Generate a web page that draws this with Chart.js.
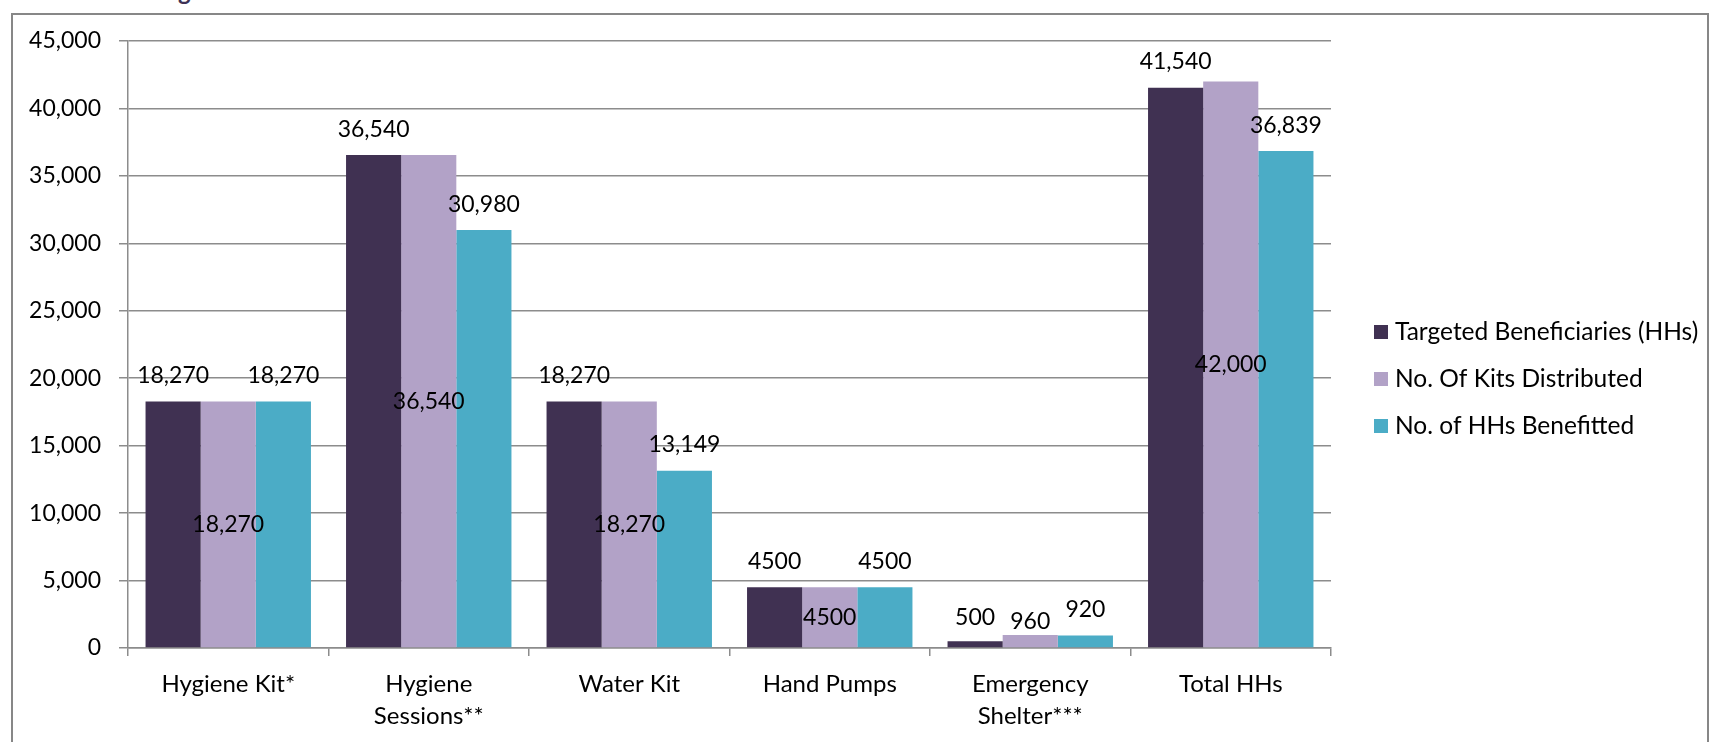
<!DOCTYPE html>
<html>
<head>
<meta charset="utf-8">
<script src="https://cdn.jsdelivr.net/npm/chart.js@4.4.1/dist/chart.umd.min.js"></script>
<style>
  html, body { margin: 0; padding: 0; background: #fff; overflow: hidden; }
  #wrap { position: relative; width: 1713px; height: 742px; }
  #frame {
    position: absolute; left: 11px; top: 13px; width: 1698px; height: 800px;
    border: 2px solid #878787; box-sizing: border-box;
  }
  #title {
    position: absolute; left: 26px; top: -21px; white-space: nowrap;
    font: bold 24px Lato, sans-serif; line-height: 24px; color: #3d3155;
  }
  canvas { position: absolute; left: 0; top: 0; }
</style>
</head>
<body>
<div id="wrap">
  <div id="frame"></div>
  <div id="title">3.1: Sector Targets and Achievements</div>
  <canvas id="chart" width="1713" height="742"></canvas>
</div>
<script>
const categories = [
  "Hygiene Kit*",
  ["Hygiene", "Sessions**"],
  "Water Kit",
  "Hand Pumps",
  ["Emergency", "Shelter***"],
  "Total HHs",
];
const seriesNames = [
  "Targeted Beneficiaries (HHs)",
  "No. Of Kits Distributed",
  "No. of HHs Benefitted",
];
const targeted = [18270, 36540, 18270, 4500, 500, 41540];
const distributed = [18270, 36540, 18270, 4500, 960, 42000];
const benefitted = [18270, 30980, 13149, 4500, 920, 36839];
const yTicks = [0, 5000, 10000, 15000, 20000, 25000, 30000, 35000, 40000, 45000];

const COLORS = ["#403152", "#b2a2c7", "#4bacc6"];
const FONT = "Lato, 'Open Sans', sans-serif";
const GRID = "#8c8c8c";

// where each value label sits: "end" above the bar, "mid" inside it
const LABEL_PLACE = [
  ["end", "end", "end", "end", "end", "end"],
  ["mid", "mid", "mid", "mid", "end", "mid"],
  ["end", "end", "end", "end", "end", "end"],
];
const LABEL_DY = [
  [0, 0, 0, 0, 2, 0],
  [0, 0, 0, 0, 13, 0],
  [0, 0, 0, 0, 0, 0],
];

const fmt = (v) => (v >= 10000 ? v.toLocaleString("en-US") : String(v));

const valueLabels = {
  id: "valueLabels",
  afterDatasetsDraw(chart) {
    const ctx = chart.ctx;
    ctx.save();
    ctx.font = `23px ${FONT}`;
    ctx.fillStyle = "#000";
    ctx.textAlign = "center";
    ctx.textBaseline = "middle";
    chart.data.datasets.forEach((ds, di) => {
      chart.getDatasetMeta(di).data.forEach((bar, i) => {
        const y = LABEL_PLACE[di][i] === "mid"
          ? (bar.y + bar.base) / 2
          : bar.y - 26;
        ctx.fillText(fmt(ds.data[i]), bar.x, y + LABEL_DY[di][i]);
      });
    });
    ctx.restore();
  },
};

const sideLegend = {
  id: "sideLegend",
  afterDraw(chart) {
    const { ctx, chartArea } = chart;
    ctx.save();
    ctx.font = `24.5px ${FONT}`;
    ctx.textAlign = "left";
    ctx.textBaseline = "middle";
    chart.data.datasets.forEach((ds, i) => {
      const y = chartArea.top + 291 + i * 47;
      const x = chartArea.right + 43;
      ctx.fillStyle = ds.backgroundColor;
      ctx.fillRect(x, y - 7, 14, 14);
      ctx.fillStyle = "#000";
      ctx.fillText(ds.label, x + 21, y);
    });
    ctx.restore();
  },
};

new Chart(document.getElementById("chart"), {
  type: "bar",
  data: {
    labels: categories,
    datasets: [targeted, distributed, benefitted].map((d, i) => ({
      label: seriesNames[i],
      data: d,
      backgroundColor: COLORS[i],
      borderWidth: 0,
      categoryPercentage: 0.825,
      barPercentage: 1.0,
    })),
  },
  options: {
    responsive: false,
    animation: false,
    layout: { padding: { top: 41, right: 382, bottom: 0, left: 0 } },
    plugins: {
      legend: { display: false },
      tooltip: { enabled: false },
    },
    scales: {
      x: {
        grid: {
          drawOnChartArea: false,
          drawTicks: true,
          tickLength: 8,
          color: GRID,
          lineWidth: 1.5,
        },
        border: { display: true, color: GRID, width: 1.5 },
        ticks: {
          color: "#000",
          padding: 12,
          maxRotation: 0,
          autoSkip: false,
          font: { family: FONT, size: 24, lineHeight: 32 / 24 },
        },
        afterFit: (scale) => { scale.height = 94; },
      },
      y: {
        min: 0,
        max: 45000,
        afterBuildTicks: (scale) => { scale.ticks = yTicks.map((v) => ({ value: v })); },
        grid: {
          color: GRID,
          lineWidth: 1.5,
          tickLength: 9,
        },
        border: { display: true, color: GRID, width: 1.5 },
        ticks: {
          color: "#000",
          padding: 18,
          font: { family: FONT, size: 23 },
          callback: (v) => v.toLocaleString("en-US"),
        },
        afterFit: (scale) => { scale.width = 128; },
      },
    },
  },
  plugins: [valueLabels, sideLegend],
});
</script>
</body>
</html>
